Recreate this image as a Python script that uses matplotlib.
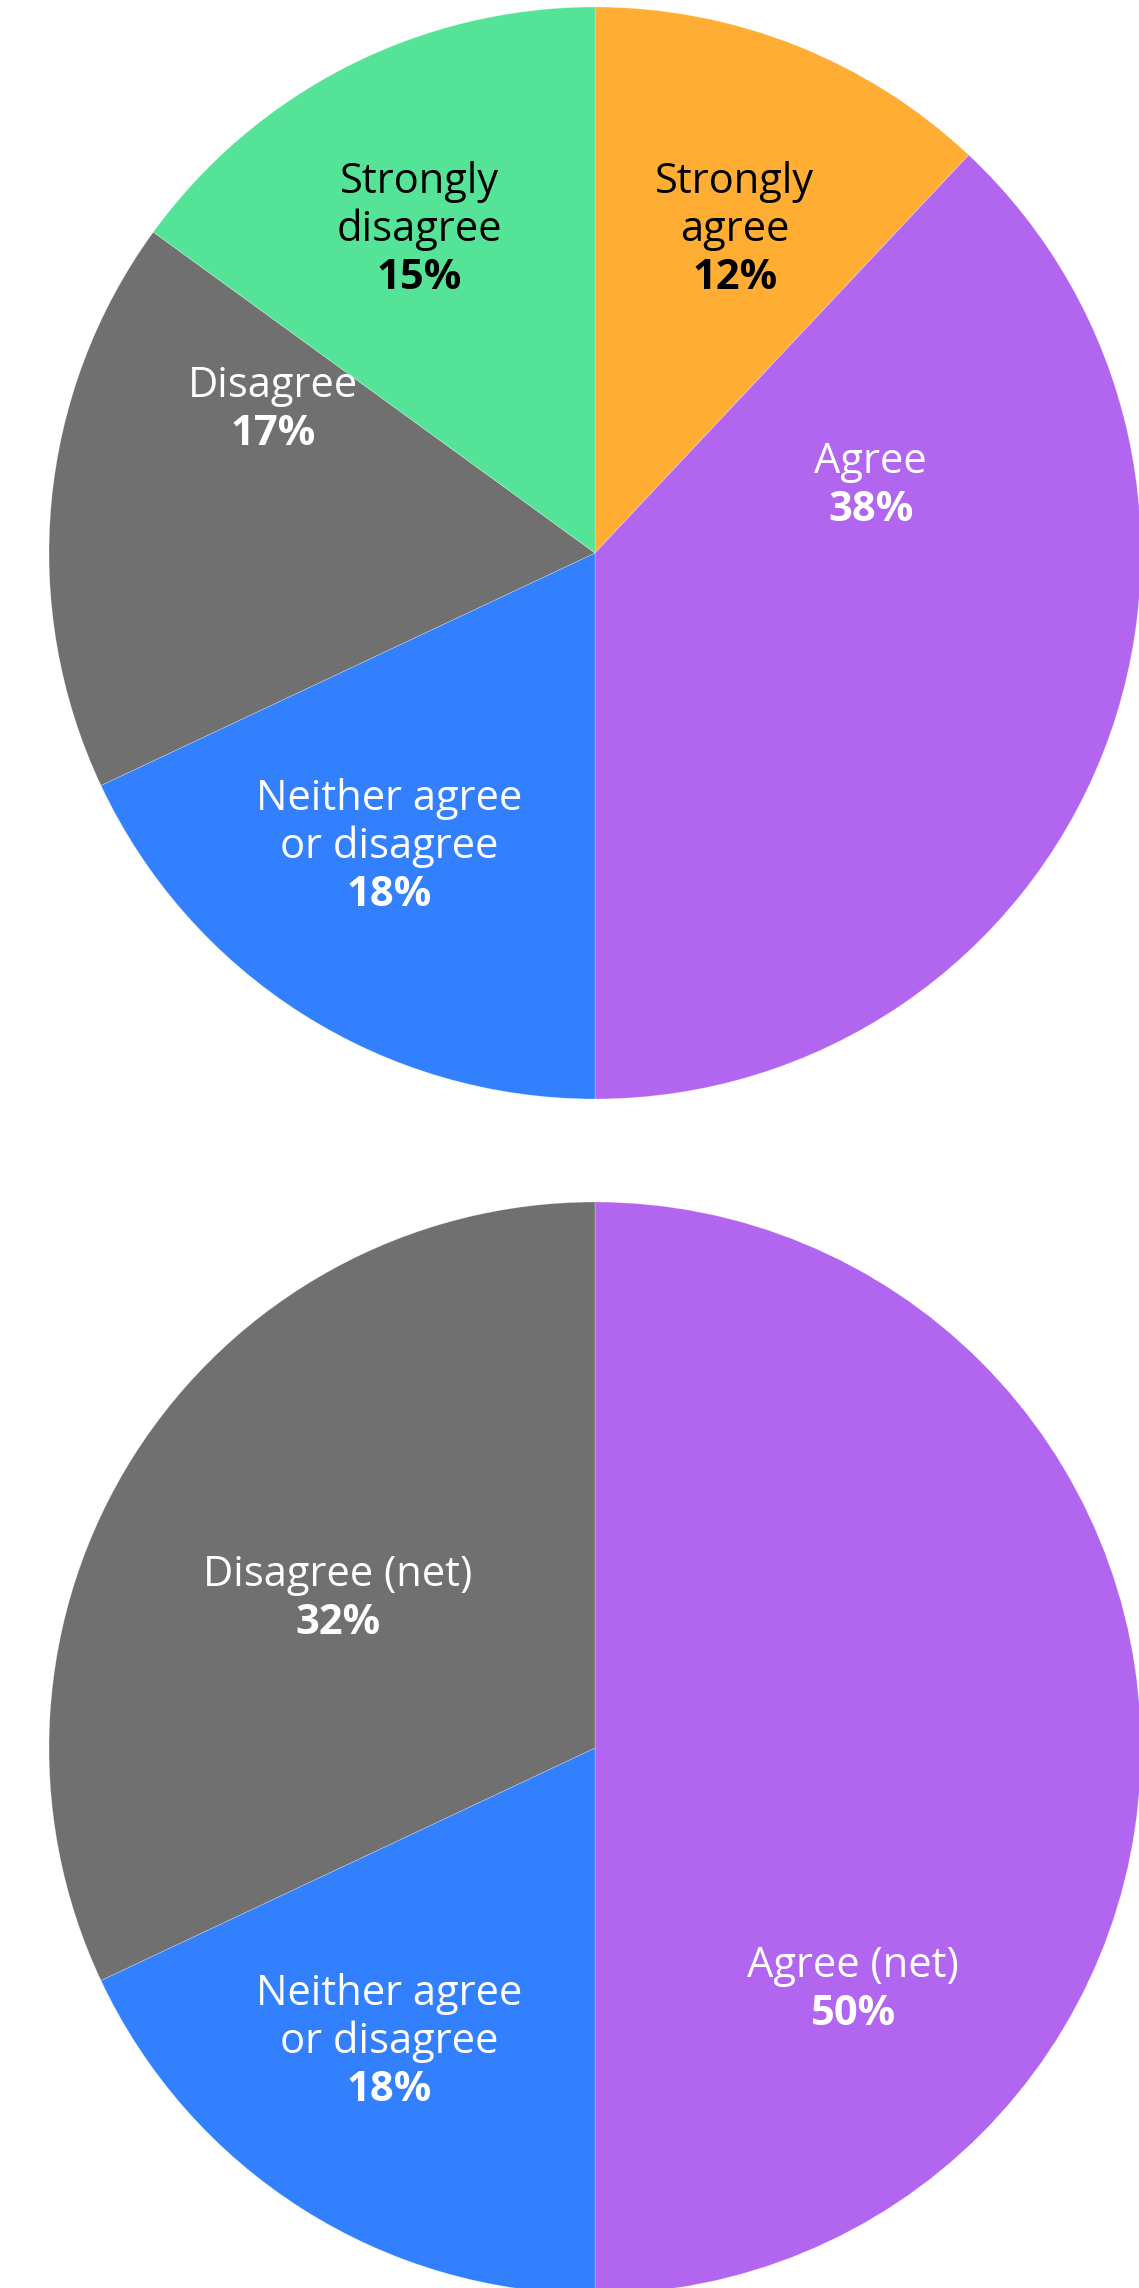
import matplotlib
matplotlib.use("Agg")
import matplotlib.pyplot as plt

plt.rcParams['font.family'] = ['Open Sans', 'DejaVu Sans']

# detailed answers
detail_labels = ["Strongly\nagree", "Agree", "Neither agree\nor disagree", "Disagree", "Strongly\ndisagree"]
detail_values = [12, 38, 18, 17, 15]
detail_colors = ["#FFAE33", "#B266F0", "#3380FF", "#707070", "#55E397"]
detail_text = ["black", "white", "white", "white", "black"]
# label block centres, in units of the pie radius
detail_label_pos = [(0.256, 0.599), (0.505, 0.130), (-0.377, -0.531), (-0.590, 0.268), (-0.322, 0.599)]

# net answers
net_labels = ["Agree (net)", "Neither agree\nor disagree", "Disagree (net)"]
net_values = [50, 18, 32]
net_colors = ["#B266F0", "#3380FF", "#707070"]
net_text = ["white", "white", "white"]
net_label_pos = [(0.473, -0.436), (-0.377, -0.531), (-0.471, 0.280)]

W, H = 1139, 2288
R = 546          # pie radius in px
CX = 595         # pie centre x in px
LINE = 48 / R    # line spacing in radius units
FS = 30


def pie_axes(fig, top_px):
    # axes box exactly covering the pie's bounding square
    left = (CX - R) / W
    bottom = (H - (top_px + 2 * R)) / H
    ax = fig.add_axes([left, bottom, 2 * R / W, 2 * R / H])
    return ax


def draw_pie(ax, labels, values, colors, text_colors, positions):
    ax.pie(values, colors=colors, startangle=90, counterclock=False, radius=1,
           wedgeprops=dict(edgecolor=(1, 1, 1, 0.35), linewidth=0.5))
    # pie() pads the limits to 1.25, pull them back to the radius
    ax.set_xlim(-1, 1)
    ax.set_ylim(-1, 1)
    ax.set_aspect('equal')
    ax.axis('off')
    for lab, val, tc, (x, y) in zip(labels, values, text_colors, positions):
        lines = lab.split("\n") + [f"{val}%"]
        n = len(lines)
        for i, line in enumerate(lines):
            yy = y + ((n - 1) / 2 - i) * LINE - 0.027
            ax.text(x, yy, line, ha='center', va='baseline', color=tc, fontsize=FS,
                    fontweight='bold' if i == n - 1 else 'normal')


fig = plt.figure(figsize=(W / 100, H / 100), dpi=100)
fig.patch.set_facecolor('white')

ax_top = pie_axes(fig, 7)
draw_pie(ax_top, detail_labels, detail_values, detail_colors, detail_text, detail_label_pos)

ax_bot = pie_axes(fig, 1202)
draw_pie(ax_bot, net_labels, net_values, net_colors, net_text, net_label_pos)

fig.savefig("out.png", dpi=100, facecolor='white')
